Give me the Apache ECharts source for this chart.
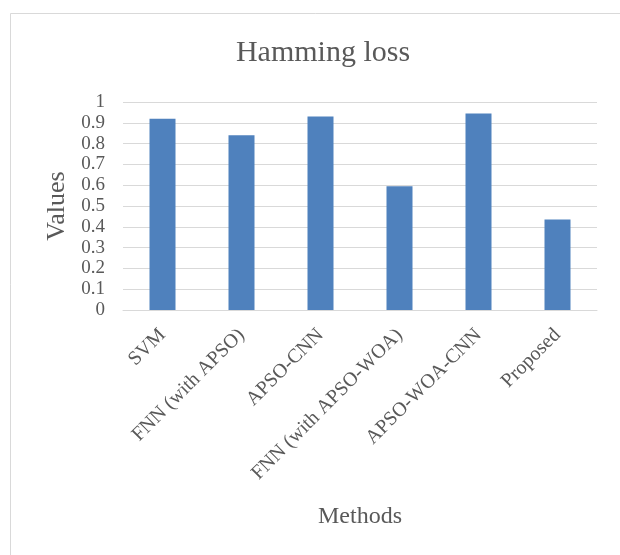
<!DOCTYPE html>
<html>
<head>
<meta charset="utf-8">
<script src="https://cdn.jsdelivr.net/npm/echarts@6/dist/echarts.min.js"></script>
<style>
  html, body { margin: 0; padding: 0; background: #fff; }
  #chart { width: 620px; height: 555px; }
</style>
</head>
<body>
<div id="chart"></div>
<script>
const methods = ['SVM', 'FNN (with APSO)', 'APSO-CNN', 'FNN (with APSO-WOA)', 'APSO-WOA-CNN', 'Proposed'];
const hammingLoss = [0.92, 0.84, 0.93, 0.595, 0.945, 0.435];

const serif = '"Liberation Serif", "DejaVu Serif", serif';
const textColor = '#595959';

const chart = echarts.init(document.getElementById('chart'));
chart.setOption({
  animation: false,
  backgroundColor: '#fff',
  graphic: [{
    type: 'rect',
    shape: { x: 10.5, y: 13.5, width: 640, height: 580 },
    style: { fill: 'none', stroke: '#d9d9d9', lineWidth: 1 },
    silent: true
  }],
  title: {
    text: 'Hamming loss',
    left: 318, top: 33,
    textAlign: 'center',
    textStyle: { fontFamily: serif, fontSize: 30, fontWeight: 'normal', color: textColor }
  },
  grid: { left: 123, right: 23, top: 102, bottom: 245 },
  xAxis: {
    type: 'category',
    data: methods,
    name: 'Methods',
    nameLocation: 'middle',
    nameGap: 195,
    nameTextStyle: { fontFamily: serif, fontSize: 24, color: textColor },
    axisLine: { lineStyle: { color: '#d9d9d9', width: 1 } },
    axisTick: { show: false },
    axisLabel: {
      rotate: 45, interval: 0, margin: 22,
      fontFamily: serif, fontSize: 20, color: textColor
    }
  },
  yAxis: {
    type: 'value',
    min: 0, max: 1, interval: 0.1,
    name: 'Values',
    nameLocation: 'middle',
    nameGap: 51,
    nameTextStyle: { fontFamily: serif, fontSize: 26, color: textColor },
    axisLine: { show: false },
    axisTick: { show: false },
    axisLabel: {
      margin: 18, fontFamily: serif, fontSize: 19, color: textColor,
      formatter: v => String(Math.round(v * 10) / 10)
    },
    splitLine: { lineStyle: { color: '#d9d9d9', width: 1 } }
  },
  series: [{
    type: 'bar',
    data: hammingLoss,
    barWidth: 26,
    itemStyle: { color: '#4f81bd' }
  }]
});
</script>
</body>
</html>
